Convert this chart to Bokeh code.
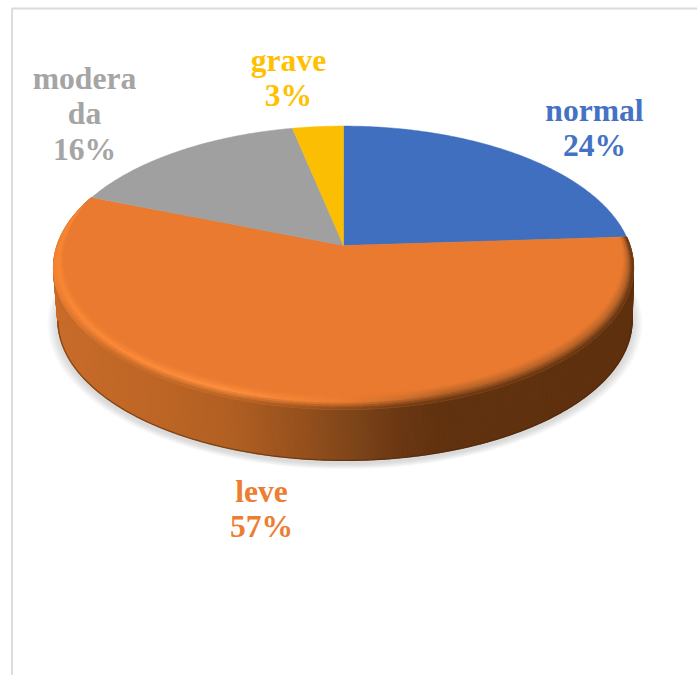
import numpy as np
from bokeh.core.properties import value
from bokeh.embed import file_html
from bokeh.models import ColumnDataSource, Range1d
from bokeh.plotting import figure
from bokeh.resources import INLINE

# ---------- data ----------
categories = ["normal", "leve", "moderada", "grave"]
values = [24.0, 57.0, 15.7, 3.3]
slice_colors = ["#3F6FBE", "#E97A2F", "#A0A0A0", "#FBBE02"]
label_colors = ["#4472C4", "#ED7D31", "#A5A5A5", "#FFC000"]
label_lines = [["normal"], ["leve"], ["modera", "da"], ["grave"]]

# ---------- layout (page pixels) ----------
label_center_x = [594, 261, 84, 288]
label_first_y = [109.5, 490.5, 77.5, 59.5]
line_step = 35.5
CX, CY, A, B, K = 343.0, 245.0, 138.2, 286.4, 0.157
DROP, LOW, LOW_DX = 52.6, 0.99, 1.5


def proj(theta, r=1.0, drop=0.0, s=1.0, dx=0.0):
    """Clockwise angle from the top of the disc -> page pixels, in perspective."""
    u, v = r * np.sin(theta), -r * np.cos(theta)
    w = 1 - K * v
    return CX + dx + B * s * u / w, CY + drop + A * s * v / w


def hex2rgb(c):
    return np.array([int(c[i:i + 2], 16) for i in (1, 3, 5)], float)


def ramp(x, xs, cs):
    rgb = np.array([hex2rgb(c) for c in cs])
    return np.array([np.interp(x, xs, rgb[:, i]) for i in range(3)])


def tohex(c):
    return "#%02x%02x%02x" % tuple(int(round(a)) for a in c)


side_x = [55, 150, 233, 300, 350, 400, 440, 640]
side_c = ["#C86C2A", "#BE6626", "#B05F22", "#96501D", "#7E4519", "#6A3713", "#61320F", "#5F310F"]
high_x = [50, 220, 340, 450]
high_c = ["#FA8735", "#FF8F3E", "#EC7D31", "#B8652A"]

fractions = np.array(values) / sum(values)
edges = np.concatenate([[0], np.cumsum(fractions)]) * 2 * np.pi

p = figure(width=697, height=675, output_backend="svg", toolbar_location=None,
           x_range=Range1d(0, 697), y_range=Range1d(675, 0), min_border=0)
p.axis.visible = False
p.grid.visible = False
p.outline_line_color = None
p.background_fill_color = "white"

# chart frame
p.line([11.5, 11.5, 697], [675, 8, 8], line_color="#DADADA", line_width=1.8)

# soft shadow under the disc
all_t = np.linspace(0, 2 * np.pi, 240)
sh_x, sh_y = [], []
for i in range(1, 9):
    x, y = proj(all_t, drop=DROP + 3, s=LOW * (1 + 0.0045 * i), dx=LOW_DX)
    sh_x.append(x.tolist())
    sh_y.append(y.tolist())
p.patches(sh_x[::-1], sh_y[::-1], fill_color="#80808A", fill_alpha=0.04, line_color=None)

# side wall: strips shaded left to right (only the big slice shows there)
t0, t1 = edges[1], edges[2]
steps = np.linspace(t0, t1, 320)
xs, ys, cs = [], [], []
for a, b in zip(steps[:-1], steps[1:]):
    xa, ya = proj(a)
    xb, yb = proj(b)
    xc, yc = proj(b, drop=DROP, s=LOW, dx=LOW_DX)
    xd, yd = proj(a, drop=DROP, s=LOW, dx=LOW_DX)
    xs.append([xa, xb, xc, xd])
    ys.append([ya, yb, yc, yd])
    cs.append(tohex(ramp((xa + xb) / 2, side_x, side_c)))
src = ColumnDataSource(dict(xs=xs, ys=ys, c=cs))
p.patches("xs", "ys", source=src, fill_color="c", line_color="c", line_width=1.2)
front = steps[-np.cos(steps) > K]
bx, by = proj(front, drop=DROP, s=LOW, dx=LOW_DX)
p.line(bx.tolist(), by.tolist(), line_color="#4A2408", line_alpha=0.5, line_width=1.4)

# flat top slices
for start, stop, color in zip(edges[:-1], edges[1:], slice_colors):
    t = np.linspace(start, stop, 120)
    x, y = proj(t)
    p.patch([CX] + x.tolist(), [CY] + y.tolist(), fill_color=color, line_color=color, line_width=0.5)

# bevel on the rim of the big slice
face = hex2rgb(slice_colors[1])
RAD = 7
ring_steps = np.linspace(t0, t1, 160)
xs, ys, cs = [], [], []
for a, b in zip(ring_steps[:-1], ring_steps[1:]):
    vm = -np.cos((a + b) / 2)
    width = 0.075 * max(0.0, (vm + 0.3) / 1.3) ** 0.7
    if width <= 0:
        continue
    xm, _ = proj((a + b) / 2)
    hi = ramp(xm, high_x, high_c)
    sd = ramp(xm, side_x, side_c)
    # on the left flank the rim stays bright up to its outer edge
    reach = 1.0 if xm >= CX else float(np.interp(vm, [0.2, 0.7], [0.2, 1.0]))
    for j in range(RAD):
        t_in, t_out = j / RAD, (j + 1) / RAD
        r_in, r_out = 1 - width * (1 - t_in), 1 - width * (1 - t_out)
        xa, ya = proj(a, r_in)
        xb, yb = proj(b, r_in)
        xc, yc = proj(b, r_out)
        xd, yd = proj(a, r_out)
        tm = (t_in + t_out) / 2
        if tm < 0.5:
            col = face + (hi - face) * tm / 0.5
        else:
            col = hi + (sd - hi) * reach * (tm - 0.5) / 0.5
        xs.append([xa, xb, xc, xd])
        ys.append([ya, yb, yc, yd])
        cs.append(tohex(col))
src = ColumnDataSource(dict(xs=xs, ys=ys, c=cs))
p.patches("xs", "ys", source=src, fill_color="c", line_color="c", line_width=0.8)

# labels: category lines, then the percentage
for lines, val, col, lx, ly in zip(label_lines, values, label_colors, label_center_x, label_first_y):
    rows = lines + ["%d%%" % round(val)]
    p.text([lx] * len(rows), [ly + i * line_step for i in range(len(rows))], text=rows,
           text_color=col, text_font=value("Liberation Serif"), text_font_style="bold",
           text_font_size="31.6px", text_align="center", text_baseline="middle")

open("out.html", "w").write(file_html(p, INLINE))
